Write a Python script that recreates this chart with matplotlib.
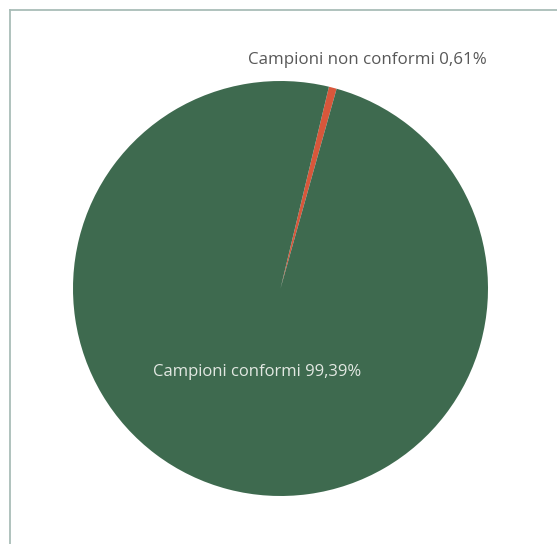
import matplotlib.pyplot as plt
from matplotlib.lines import Line2D

# sample conformity shares (percent)
categories = ['Campioni non conformi', 'Campioni conformi']
values = [0.61, 99.39]
colors = ['#d8573b', '#3e6a4f']

fig = plt.figure(figsize=(5.57, 5.44), dpi=100)
fig.patch.set_facecolor('white')

# thin frame on the top and left edges only
fx, fy = 10 / 557, 1 - 10 / 544
fig.add_artist(Line2D([fx, 1], [fy, fy], color='#a9bdb8', lw=1.3, transform=fig.transFigure))
fig.add_artist(Line2D([fx, fx], [0, fy], color='#a9bdb8', lw=1.3, transform=fig.transFigure))

ax = fig.add_axes([73 / 557, 47 / 544, 415 / 557, 417 / 544])
ax.pie(values, colors=colors, startangle=76.5, counterclock=False,
       wedgeprops=dict(linewidth=0))
ax.set_xlim(-1, 1)
ax.set_ylim(-1, 1)
ax.axis('off')

def label(i):
    return f'{categories[i]} {values[i]:.2f}%'.replace('.', ',')

font = ['Open Sans', 'DejaVu Sans']
ax.text(0.417, 1.10, label(0), ha='center', va='center', fontsize=12.2,
        color='#585858', family=font)
ax.text(-0.113, -0.40, label(1), ha='center', va='center', fontsize=12,
        color='#e2e8e2', family=font)

fig.savefig('out.png', dpi=100)
